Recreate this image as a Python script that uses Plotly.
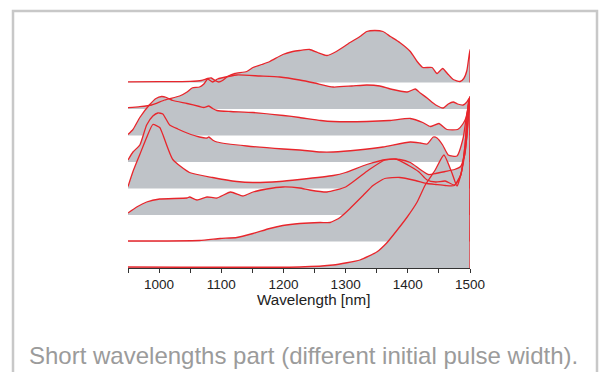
import plotly.graph_objects as go

# ---- data: short-wavelength spectra (arb. units, stacked), wavelength in nm ----
wl_1 = [950, 1000, 1050, 1068, 1078, 1084, 1090, 1096, 1102, 1110, 1122, 1141, 1151, 1165, 1178, 1199, 1215,
        1226, 1242, 1255, 1270, 1285, 1300, 1307, 1323, 1334, 1347, 1360, 1372, 1387, 1404, 1415, 1424, 1439,
        1447, 1456, 1465, 1473, 1484, 1490, 1495, 1500]
sp_1 = [0.7, 0.9, 1.2, 2, 4, 4.5, 2, 0.5, 2, 6, 9, 11, 15, 18, 21, 28, 31,
        32, 33, 30, 27, 31, 37, 40, 46, 51, 52, 51, 46, 40, 31, 21, 15, 15,
        9, 14, 8, 3, 1, 4, 12, 33]

wl_2 = [950, 969, 988, 1009, 1033, 1045, 1053, 1065, 1072, 1078, 1086, 1094, 1100, 1125, 1162, 1194, 1226,
        1250, 1280, 1310, 1334, 1355, 1372, 1399, 1412, 1420, 1431, 1445, 1457, 1465, 1473, 1480, 1489, 1495, 1500]
sp_2 = [1.3, 2.3, 4, 9, 13, 17, 21, 22, 25, 30, 27, 30, 31, 34, 33, 32, 29,
        26, 22, 23, 24, 23, 20, 17, 20, 16, 11, 4, 1, 5, 7, 5, 4, 7, 12]

wl_3 = [950, 958, 969, 985, 995, 1004, 1012, 1022, 1045, 1065, 1072, 1080, 1086, 1093, 1115, 1151, 1200,
        1226, 1260, 1280, 1334, 1370, 1404, 1424, 1436, 1450, 1463, 1480, 1489, 1495, 1500]
sp_3 = [1, 6, 18, 31, 37, 39, 38, 35, 32, 29, 28, 29.5, 27, 25, 24, 23, 20,
        18, 15, 14, 14, 15, 17, 13, 9, 12, 6, 6, 12, 20, 33]

wl_4 = [950, 958, 969, 980, 990, 998, 1006, 1017, 1030, 1045, 1065, 1077, 1080, 1086, 1093, 1141, 1200,
        1226, 1260, 1280, 1320, 1360, 1404, 1420, 1431, 1441, 1447, 1456, 1465, 1479, 1489, 1495, 1500]
sp_4 = [2, 10, 17, 37, 46, 49, 48, 37, 33, 29, 25, 24, 25, 22, 20, 16, 13,
        12, 10, 10, 12, 15, 20, 19, 18, 25, 24, 17, 7, 6, 24, 49, 62]

wl_5 = [950, 958, 969, 980, 990, 1001, 1006, 1022, 1049, 1086, 1125, 1151, 1194, 1226, 1280, 1300, 1334,
        1366, 1387, 1404, 1420, 1433, 1445, 1460, 1475, 1485, 1492, 1497, 1500]
sp_5 = [2, 17, 34, 51, 64, 61, 54, 29, 16, 11, 7, 6, 7, 9, 13, 16, 24,
        29, 29, 26, 19, 14, 15, 17, 19, 22, 35, 70, 92]

wl_6 = [950, 964, 980, 1001, 1045, 1049, 1061, 1077, 1093, 1115, 1135, 1151, 1173, 1199, 1226, 1242, 1270,
        1300, 1337, 1363, 1381, 1400, 1418, 1431, 1445, 1460, 1475, 1485, 1492, 1497, 1500]
sp_6 = [2, 8, 13, 16, 17, 18, 15, 18, 17, 23, 19, 23, 26, 28, 27, 25, 23,
        28, 45, 55, 56, 50, 43, 35, 33, 34, 30, 40, 70, 110, 118]

wl_7 = [950, 1065, 1098, 1125, 1151, 1178, 1199, 1226, 1259, 1275, 1291, 1307, 1328, 1344, 1363, 1387, 1412,
        1431, 1445, 1460, 1475, 1485, 1492, 1497, 1500]
sp_7 = [0.5, 1, 3, 4, 8, 13, 16, 18, 19, 19, 24, 33, 46, 56, 63, 64, 61,
        58, 57, 56, 56, 66, 96, 136, 144]

wl_8 = [950, 1226, 1280, 1323, 1350, 1366, 1383, 1399, 1415, 1428, 1444, 1458, 1471, 1479, 1487, 1495, 1500]
sp_8 = [1, 1, 3, 8, 16, 25, 38, 51, 66, 83, 98, 113, 95, 82, 98, 131, 171]

wavelengths = [wl_1, wl_2, wl_3, wl_4, wl_5, wl_6, wl_7, wl_8]
spectra = [sp_1, sp_2, sp_3, sp_4, sp_5, sp_6, sp_7, sp_8]

tick_vals = [950, 1000, 1050, 1100, 1150, 1200, 1250, 1300, 1350, 1400, 1450, 1500]
tick_text = ["", "1000", "", "1100", "", "1200", "", "1300", "", "1400", "", "1500"]

axis_title = "Wavelength [nm]"
caption = "Short wavelengths part (different initial pulse width)."

# ---- styling ----
OFFSET_STEP = 26.5
FILL = "#bfc3c8"
RED = "#e8262c"
n = len(spectra)

fig = go.Figure()

# fills (baseline trace + tonexty), all drawn first
for i, (wl, sp) in enumerate(zip(wavelengths, spectra)):
    base = (n - 1 - i) * OFFSET_STEP
    fig.add_trace(go.Scatter(x=[wl[0], wl[-1]], y=[base, base], mode="lines",
                             line=dict(width=0, color=FILL), hoverinfo="skip", showlegend=False))
    fig.add_trace(go.Scatter(x=wl, y=[base + v for v in sp], mode="lines", fill="tonexty",
                             fillcolor=FILL, line=dict(width=0, color=FILL, shape="spline", smoothing=0.5),
                             hoverinfo="skip", showlegend=False))

# red outlines on top
for i, (wl, sp) in enumerate(zip(wavelengths, spectra)):
    base = (n - 1 - i) * OFFSET_STEP
    fig.add_trace(go.Scatter(x=list(wl) + [wl[-1]], y=[base + v for v in sp] + [base],
                             mode="lines", line=dict(width=1.3, color=RED, shape="spline", smoothing=0.5),
                             hoverinfo="skip", showlegend=False))

L, R, T, B = 128, 131, 28, 104
W, H = 601, 372
pw, ph = W - L - R, H - T - B

def px(xp):
    return (xp - L) / pw

def py(yp):
    return (H - B - yp) / ph

fig.update_layout(
    width=W, height=H,
    margin=dict(l=L, r=R, t=T, b=B, pad=0),
    paper_bgcolor="white", plot_bgcolor="white",
    font=dict(family="Liberation Sans, Arial, sans-serif", color="#222222", size=13.5),
    xaxis=dict(range=[950, 1500], tickvals=tick_vals, ticktext=tick_text,
               showgrid=False, zeroline=False, showline=True, linecolor="#333333", linewidth=1,
               ticks="outside", ticklen=4, tickcolor="#333333", tickwidth=1,
               tickfont=dict(size=13.5, color="#222222")),
    yaxis=dict(range=[0, 240], visible=False, showgrid=False, zeroline=False),
    shapes=[dict(type="rect", xref="paper", yref="paper",
                 x0=px(13), x1=px(597), y0=py(420), y1=py(11),
                 line=dict(color="#c8c8c8", width=2.5), fillcolor="rgba(0,0,0,0)", layer="below")],
    annotations=[
        dict(text=axis_title, xref="x", yref="paper", x=1248, y=py(299), xanchor="center",
             yanchor="middle", showarrow=False, font=dict(size=15.2, color="#222222")),
        dict(text=caption, xref="paper", yref="paper", x=px(27), y=py(355), xanchor="left",
             yanchor="middle", showarrow=False, font=dict(size=24, color="#9b9b9b")),
    ],
)

fig.write_html("out.html")
